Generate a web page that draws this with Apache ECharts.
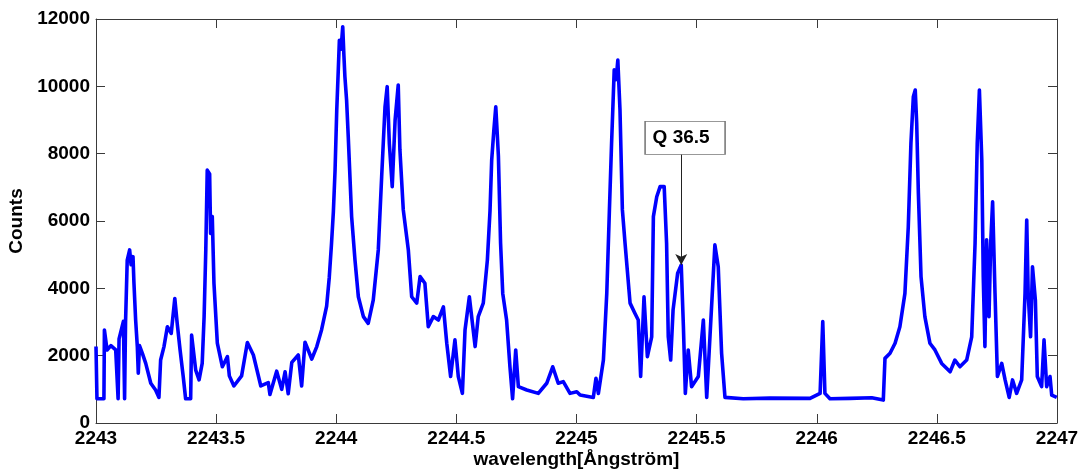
<!DOCTYPE html>
<html>
<head>
<meta charset="utf-8">
<title>Spectrum</title>
<script src="https://cdn.jsdelivr.net/npm/echarts@6/dist/echarts.min.js"></script>
<style>
  html, body { margin: 0; padding: 0; background: #fff; }
  #chart { width: 1084px; height: 471px; }
</style>
</head>
<body>
<div id="chart"></div>
<script>
// Measured spectrum: wavelength (Å) and detector counts
const wavelength = [
  2243.000, 2243.004, 2243.033, 2243.035, 2243.046, 2243.062, 2243.082, 2243.092, 2243.096, 2243.114,
  2243.119, 2243.123, 2243.130, 2243.140, 2243.146, 2243.154, 2243.158, 2243.165, 2243.172, 2243.176,
  2243.181, 2243.193, 2243.207, 2243.228, 2243.248, 2243.262, 2243.269, 2243.283, 2243.297, 2243.313,
  2243.328, 2243.338, 2243.350, 2243.363, 2243.373, 2243.394, 2243.398, 2243.415, 2243.429, 2243.442,
  2243.450, 2243.457, 2243.463, 2243.473, 2243.477, 2243.484, 2243.491, 2243.505, 2243.526, 2243.547,
  2243.555, 2243.574, 2243.606, 2243.630, 2243.655, 2243.686, 2243.717, 2243.724, 2243.752, 2243.773,
  2243.787, 2243.800, 2243.815, 2243.842, 2243.856, 2243.870, 2243.898, 2243.919, 2243.939, 2243.960,
  2243.971, 2243.980, 2243.988, 2243.995, 2244.002, 2244.008, 2244.013, 2244.020, 2244.027, 2244.032,
  2244.036, 2244.043, 2244.050, 2244.064, 2244.078,
  2244.092, 2244.113, 2244.133, 2244.154, 2244.175, 2244.189, 2244.203, 2244.212, 2244.221, 2244.233,
  2244.245, 2244.258, 2244.265, 2244.279, 2244.300, 2244.314, 2244.335, 2244.349, 2244.369, 2244.383,
  2244.404, 2244.425, 2244.446, 2244.460, 2244.476, 2244.494, 2244.508, 2244.525, 2244.536, 2244.554,
  2244.578, 2244.591, 2244.612, 2244.629, 2244.640, 2244.647, 2244.656, 2244.664, 2244.670, 2244.675,
  2244.684, 2244.693, 2244.709,
  2244.723, 2244.734, 2244.747, 2244.758, 2244.793, 2244.841, 2244.876, 2244.901, 2244.924, 2244.945,
  2244.973, 2245.001, 2245.015, 2245.070, 2245.081, 2245.091, 2245.112, 2245.126, 2245.137, 2245.146,
  2245.157, 2245.165, 2245.172, 2245.181, 2245.191, 2245.202, 2245.223, 2245.243, 2245.257, 2245.267,
  2245.281, 2245.295, 2245.313, 2245.320, 2245.334, 2245.348, 2245.365, 2245.375, 2245.382, 2245.392,
  2245.402, 2245.421, 2245.436, 2245.445, 2245.453, 2245.465, 2245.479, 2245.507, 2245.528, 2245.542,
  2245.563, 2245.576, 2245.590, 2245.604, 2245.618, 2245.694, 2245.805, 2245.972, 2246.014, 2246.025,
  2246.034, 2246.055, 2246.138, 2246.229, 2246.277, 2246.284, 2246.305, 2246.326, 2246.346, 2246.367,
  2246.381, 2246.392, 2246.402, 2246.410, 2246.416, 2246.423, 2246.434, 2246.450, 2246.471, 2246.492,
  2246.520, 2246.555, 2246.575, 2246.596, 2246.624, 2246.645, 2246.659, 2246.668, 2246.677, 2246.687,
  2246.693, 2246.700, 2246.707, 2246.717, 2246.724, 2246.732, 2246.742, 2246.752, 2246.770, 2246.784,
  2246.801, 2246.815, 2246.832, 2246.853, 2246.867, 2246.874, 2246.880, 2246.890, 2246.898, 2246.910,
  2246.918, 2246.936, 2246.946, 2246.957, 2246.971, 2246.978, 2246.999
];
const counts = [
  2270, 720, 720, 2760, 2170, 2300, 2170, 720, 2500, 3020,
  720, 3000, 4840, 5140, 4700, 4940, 4150, 3060, 2270, 1480,
  2300, 2070, 1770, 1180, 980, 760, 1870, 2270, 2860, 2660,
  3700, 2960, 2170, 1380, 720, 720, 2610, 1570, 1280, 1770,
  3160, 5140, 7510, 7400, 5630, 6130, 4150, 2370, 1670, 1970,
  1400, 1100, 1400, 2390, 2020, 1100, 1200, 850, 1540, 1000,
  1520, 870, 1800, 2020, 1100, 2400, 1900, 2270, 2770, 3470,
  4330, 5300, 6270, 7500, 9270, 10400, 11370, 11100, 11770, 10900,
  10290, 9600, 8500, 6130, 4840,
  3750, 3160, 2960, 3650, 5140, 7310, 9390, 9990, 8300, 7020,
  9000, 10040, 8110, 6330, 5140, 3750, 3560, 4350, 4150, 2860,
  3160, 3060, 3450, 2370, 1380, 2470, 1380, 880, 2760, 3750,
  2270, 3160, 3560, 4840, 6300, 7810, 8700, 9390, 8600, 7910,
  5340, 3850, 3060,
  1670, 720, 2170, 1080, 980, 880, 1180, 1670, 1180, 1230,
  880, 930, 830, 760, 1330, 880, 1870, 3850, 6330, 8310,
  10490, 10200, 10780, 9300, 6330, 5340, 3560, 3260, 3060, 1380,
  3750, 1970, 2560, 6130, 6720, 7020, 7020, 5340, 2560, 1870,
  3360, 4450, 4690, 2860, 880, 2170, 1080, 1380, 3060, 760,
  3560, 5290, 4640, 2070, 760, 720, 740, 730, 880, 3010,
  880, 720, 730, 750, 680, 1920, 2070, 2370, 2860, 3850,
  5830, 8310, 9690, 9890, 8900, 6820, 4350, 3160, 2370, 2170,
  1770, 1520, 1870, 1670, 1870, 2560, 5340, 8310, 9890, 7810,
  4350, 2270, 5440, 3160, 5340, 6570, 3850, 1380, 1770, 1280,
  760, 1280, 880, 1280, 3850, 6030, 3850, 2560, 4640, 3650,
  1380, 1080, 2470, 1080, 1380, 830, 760
];

// Axis ranges and tick spacing
const xRange = [2243, 2247];
const xStep = 0.5;
const yRange = [0, 12000];
const yStep = 2000;

// Line annotation: label, marked line position and label box centre
const noteText = 'Q 36.5';
const notePoint = [2245.436, 4690];
const noteLineTop = [2245.436, 7990];
const noteBoxCentre = [2245.452, 8470];

const seriesData = wavelength.map((w, i) => [w, counts[i]]);

const axisColor = '#3a3a3a';
const labelFont = { color: '#000', fontFamily: 'Liberation Sans, Arial, sans-serif', fontWeight: 'bold', fontSize: 19 };

const chart = echarts.init(document.getElementById('chart'), null, { renderer: 'canvas' });

chart.setOption({
  animation: false,
  backgroundColor: '#fff',
  grid: { left: 96, right: 27, top: 19, bottom: 48, containLabel: false, outerBoundsMode: 'none' },
  xAxis: [
    {
      type: 'value', position: 'bottom', min: xRange[0], max: xRange[1], interval: xStep,
      name: 'wavelength[Ångström]', nameLocation: 'middle', nameGap: 27, nameMoveOverlap: false,
      nameTextStyle: Object.assign({}, labelFont),
      axisLine: { show: true, onZero: false, lineStyle: { color: axisColor, width: 1 } },
      axisTick: { show: true, inside: true, length: 9, lineStyle: { color: axisColor } },
      axisLabel: Object.assign({ margin: 6, formatter: v => String(v) }, labelFont),
      splitLine: { show: false }
    },
    {
      type: 'value', position: 'top', min: xRange[0], max: xRange[1], interval: xStep,
      axisLine: { show: true, onZero: false, lineStyle: { color: axisColor, width: 1 } },
      axisTick: { show: true, inside: true, length: 9, lineStyle: { color: axisColor } },
      axisLabel: { show: false },
      splitLine: { show: false }
    }
  ],
  yAxis: [
    {
      type: 'value', position: 'left', min: yRange[0], max: yRange[1], interval: yStep,
      name: 'Counts', nameLocation: 'middle', nameGap: 70,
      nameTextStyle: Object.assign({}, labelFont),
      axisLine: { show: true, onZero: false, lineStyle: { color: axisColor, width: 1 } },
      axisTick: { show: true, inside: true, length: 9, lineStyle: { color: axisColor } },
      axisLabel: Object.assign({ margin: 6, formatter: v => String(v) }, labelFont),
      splitLine: { show: false }
    },
    {
      type: 'value', position: 'right', min: yRange[0], max: yRange[1], interval: yStep,
      axisLine: { show: true, onZero: false, lineStyle: { color: axisColor, width: 1 } },
      axisTick: { show: true, inside: true, length: 9, lineStyle: { color: axisColor } },
      axisLabel: { show: false },
      splitLine: { show: false }
    }
  ],
  series: [
    {
      type: 'line',
      xAxisIndex: 0,
      yAxisIndex: 0,
      data: seriesData,
      showSymbol: false,
      symbol: 'none',
      lineStyle: { color: '#0000ff', width: 3.6, join: 'round' },
      clip: true,
      silent: true,
      markLine: {
        silent: true,
        animation: false,
        symbol: ['none', 'arrow'],
        symbolSize: [9, 11],
        label: { show: false },
        lineStyle: { color: '#222', width: 1, type: 'solid' },
        data: [[
          { coord: noteLineTop, symbol: 'none' },
          { coord: notePoint, symbol: 'arrow' }
        ]]
      },
      markPoint: {
        silent: true,
        animation: false,
        data: [{
          coord: noteBoxCentre,
          symbol: 'rect',
          symbolSize: [80, 33],
          itemStyle: { color: '#fff', borderColor: '#777', borderWidth: 1 },
          label: Object.assign({ show: true, position: 'inside', formatter: noteText, offset: [-4, 0] }, labelFont)
        }]
      }
    }
  ]
});
</script>
</body>
</html>
